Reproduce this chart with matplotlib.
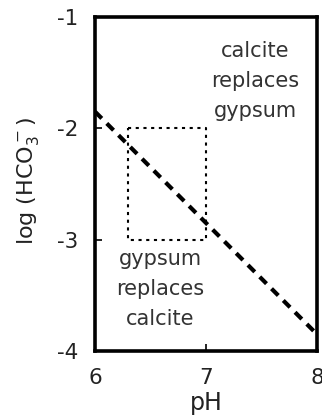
import matplotlib
matplotlib.use("Agg")
import matplotlib.pyplot as plt

plt.rcParams['font.family'] = ['DejaVu Sans']
plt.rcParams['mathtext.default'] = 'regular'
plt.rcParams['axes.unicode_minus'] = False

# boundary line: log(HCO3-) vs pH
line_ph = [6.0, 8.0]
line_log = [-1.85, -3.85]

# dotted box of observed conditions
box_ph = [6.3, 7.0, 7.0, 6.3, 6.3]
box_log = [-2.0, -2.0, -3.0, -3.0, -2.0]

x_ticks = [6, 7, 8]
y_ticks = [-1, -2, -3, -4]

upper_lines = ["calcite", "replaces", "gypsum"]
lower_lines = ["gypsum", "replaces", "calcite"]

fig = plt.figure(figsize=(3.22, 4.18), dpi=100)
ax = fig.add_axes([95 / 322, 1 - 351 / 418, 222 / 322, 334 / 418])

ax.plot(line_ph, line_log, color="black", linewidth=3, linestyle=(0, (2.3, 1.7)))
ax.plot(box_ph, box_log, color="black", linewidth=1.5, linestyle=(0, (1.5, 2.2)))

# region labels, one text per line (baselines ~30 px apart)
for i, s in enumerate(upper_lines):
    ax.text(7.446, -1.36 - i * 0.27, s, ha="center", va="baseline",
            fontsize=15, color="#333333")
for i, s in enumerate(lower_lines):
    ax.text(6.59, -3.23 - i * 0.27, s, ha="center", va="baseline",
            fontsize=15, color="#333333")

ax.set_xlim(6, 8)
ax.set_ylim(-4, -1)
ax.set_xticks(x_ticks)
ax.set_yticks(y_ticks)
ax.set_xticklabels([str(t) for t in x_ticks])
ax.set_yticklabels([str(t) for t in y_ticks])
ax.tick_params(direction="in", length=5, width=1.2, labelsize=15.5, pad=12,
               labelcolor="#222222")
for s in ax.spines.values():
    s.set_linewidth(2.6)

ax.set_xlabel("pH", fontsize=17, va="center", color="#222222")
ax.xaxis.set_label_coords(0.5, -0.156)
ax.set_ylabel("log (HCO$_3^-$)", fontsize=16, va="center", color="#222222")
ax.yaxis.set_label_coords(-0.30, 0.51)

fig.savefig("out.png", dpi=100)
